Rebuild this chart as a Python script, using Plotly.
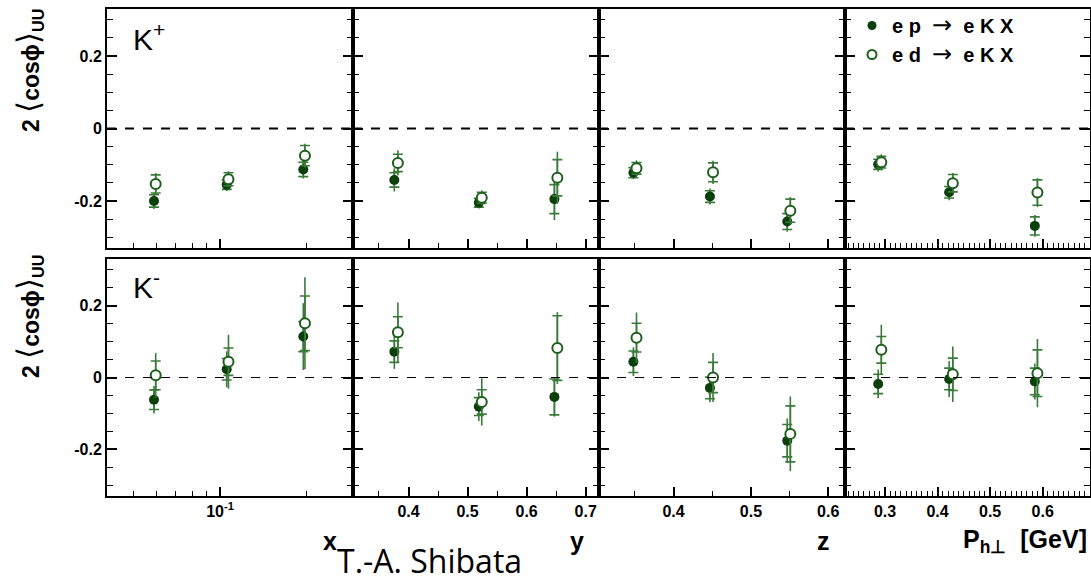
import plotly.graph_objects as go

# ---------------- data ----------------
panel_titles = ["x", "y", "z", "P<sub>h\u22a5</sub>  [GeV]"]
# bin centres (3 bins per panel: x, y, z, Ph_perp)
bins_ep = [0.059, 0.1055, 0.1946, 0.376, 0.519, 0.647, 0.348, 0.447, 0.547, 0.287, 0.422, 0.585]
bins_ed = [0.0598, 0.107, 0.1972, 0.382, 0.524, 0.652, 0.352, 0.451, 0.551, 0.293, 0.429, 0.590]

# K+ , proton target
kplus_ep_val = [-0.200, -0.155, -0.113, -0.142, -0.205, -0.195, -0.122, -0.188, -0.257, -0.099, -0.176, -0.269]
kplus_ep_stat = [0.022, 0.018, 0.025, 0.032, 0.016, 0.058, 0.018, 0.022, 0.028, 0.020, 0.022, 0.030]
kplus_ep_sys = [0.017, 0.013, 0.020, 0.020, 0.012, 0.040, 0.014, 0.016, 0.022, 0.014, 0.016, 0.025]
# K+ , deuteron target
kplus_ed_val = [-0.153, -0.140, -0.075, -0.095, -0.191, -0.136, -0.110, -0.121, -0.227, -0.093, -0.151, -0.177]
kplus_ed_stat = [0.030, 0.022, 0.033, 0.035, 0.020, 0.072, 0.022, 0.032, 0.038, 0.022, 0.028, 0.040]
kplus_ed_sys = [0.025, 0.018, 0.028, 0.024, 0.015, 0.050, 0.016, 0.026, 0.032, 0.016, 0.024, 0.035]
# K- , proton target
kminus_ep_val = [-0.062, 0.023, 0.114, 0.072, -0.081, -0.054, 0.044, -0.029, -0.176, -0.018, -0.004, -0.011]
kminus_ep_stat = [0.038, 0.050, 0.093, 0.048, 0.040, 0.055, 0.040, 0.040, 0.062, 0.040, 0.050, 0.050]
kminus_ep_sys = [0.027, 0.030, 0.042, 0.030, 0.025, 0.050, 0.030, 0.030, 0.045, 0.027, 0.030, 0.037]
# K- , deuteron target
kminus_ed_val = [0.006, 0.044, 0.151, 0.126, -0.068, 0.082, 0.111, 0.000, -0.157, 0.077, 0.009, 0.012]
kminus_ed_stat = [0.062, 0.075, 0.128, 0.083, 0.066, 0.100, 0.070, 0.068, 0.104, 0.070, 0.077, 0.095]
kminus_ed_sys = [0.040, 0.038, 0.076, 0.043, 0.034, 0.090, 0.040, 0.042, 0.078, 0.037, 0.045, 0.065]

x_tickvals = [[0.1], [0.4, 0.5, 0.6, 0.7], [0.4, 0.5, 0.6], [0.3, 0.4, 0.5, 0.6]]
x_ticktext = [["10<sup>-1</sup>"], ["0.4", "0.5", "0.6", "0.7"], ["0.4", "0.5", "0.6"], ["0.3", "0.4", "0.5", "0.6"]]
y_tickvals = [-0.2, 0.0, 0.2]
y_ticktext = ["-0.2", "0", "0.2"]

# ---------------- layout geometry ----------------
W, H = 1091, 584
xdom_px = [(107, 353), (353, 599), (599, 845), (845, 1090)]
ydom_px = [(9, 248), (259, 496)]
xranges = [[-1.3924, -0.5382], [0.306, 0.7225], [0.3035, 0.6217], [0.2239, 0.69]]
xtypes = ["log", "linear", "linear", "linear"]
x_minor = [
    dict(tickmode="array", tickvals=[0.05, 0.06, 0.07, 0.08, 0.09, 0.2]),
    dict(tickmode="linear", tick0=0, dtick=0.05),
    dict(tickmode="linear", tick0=0, dtick=0.05),
    dict(tickmode="linear", tick0=0, dtick=0.01),
]

FILL = "#0b3f0b"
EDGE = "#1e5e1e"
ERR = "#3b7a3b"
AXF = dict(family="Liberation Sans, Arial, sans-serif", size=16, color="black", weight="bold")

fig = go.Figure()

rows = [
    (kplus_ep_val, kplus_ep_stat, kplus_ep_sys, kplus_ed_val, kplus_ed_stat, kplus_ed_sys),
    (kminus_ep_val, kminus_ep_stat, kminus_ep_sys, kminus_ed_val, kminus_ed_stat, kminus_ed_sys),
]

layout_axes = {}
shapes = []
for r in range(2):
    ep_v, ep_st, ep_sy, ed_v, ed_st, ed_sy = rows[r]
    for c in range(4):
        n = r * 4 + c + 1
        xa = "x" if n == 1 else f"x{n}"
        ya = "y" if n == 1 else f"y{n}"
        s = slice(3 * c, 3 * c + 3)
        for xs, v, st, sy, is_ep in [(bins_ep, ep_v, ep_st, ep_sy, True), (bins_ed, ed_v, ed_st, ed_sy, False)]:
            # statistical error (line without caps)
            fig.add_trace(go.Scatter(
                x=xs[s], y=v[s], mode="markers", xaxis=xa, yaxis=ya,
                marker=dict(size=1, color="rgba(0,0,0,0)"),
                error_y=dict(type="data", array=st[s], color=ERR, thickness=1.6, width=0),
                showlegend=False, hoverinfo="skip"))
            # systematic error (caps) + marker
            if is_ep:
                mk = dict(size=10, color=FILL, line=dict(width=0))
            else:
                mk = dict(size=10, color="white", line=dict(width=2, color=EDGE))
            fig.add_trace(go.Scatter(
                x=xs[s], y=v[s], mode="markers", xaxis=xa, yaxis=ya,
                marker=mk,
                error_y=dict(type="data", array=sy[s], color=ERR, thickness=1.6, width=5),
                showlegend=False))
        x0, x1 = xdom_px[c]
        y0, y1 = ydom_px[r]
        xkey = "xaxis" if n == 1 else f"xaxis{n}"
        ykey = "yaxis" if n == 1 else f"yaxis{n}"
        layout_axes[xkey] = dict(
            domain=[x0 / W, x1 / W], anchor=ya, type=xtypes[c], range=xranges[c],
            showline=True, linecolor="black", linewidth=2, mirror=True,
            ticks="inside", ticklen=9, tickwidth=1.6, tickcolor="black",
            tickmode="array", tickvals=x_tickvals[c], ticktext=x_ticktext[c],
            showticklabels=(r == 1), tickfont=AXF, showgrid=False, zeroline=False,
            minor=dict(ticks="inside", ticklen=5, tickwidth=1.4, tickcolor="black", showgrid=False, **x_minor[c]),
        )
        layout_axes[ykey] = dict(
            domain=[1 - y1 / H, 1 - y0 / H], anchor=xa, range=[-0.33, 0.33],
            showline=True, linecolor="black", linewidth=2, mirror="allticks",
            ticks="inside", ticklen=10, tickwidth=1.8, tickcolor="black",
            tickmode="array", tickvals=y_tickvals, ticktext=y_ticktext,
            showticklabels=(c == 0), tickfont=AXF, showgrid=False, zeroline=False,
            minor=dict(ticks="inside", ticklen=6, tickwidth=1.4, tickcolor="black",
                       tickmode="linear", tick0=0, dtick=0.05, showgrid=False),
        )
        shapes.append(dict(type="line", xref=f"{xa} domain", yref=ya, x0=0, x1=1, y0=0, y1=0,
                           line=dict(color="black", width=2 if r == 0 else 1.2, dash="dash")))

# legend entries
ARROW = "<span style='font-family:DejaVu Sans;font-weight:normal;font-size:24px'>\u2192</span>"
fig.add_trace(go.Scatter(x=[None], y=[None], mode="markers", name=f"e p  {ARROW}  e K X",
                         marker=dict(size=9, color=FILL)))
fig.add_trace(go.Scatter(x=[None], y=[None], mode="markers", name=f"e d  {ARROW}  e K X",
                         marker=dict(size=9, color="white", line=dict(width=2, color=EDGE))))

annotations = []
def px(xp, yp):
    return xp / W, 1 - yp / H

# hadron labels
for lab, ypix in [("K<sup>+</sup>", 37), ("K<sup>-</sup>", 285)]:
    ax, ay = px(131, ypix)
    annotations.append(dict(text=lab, x=ax, y=ay, xref="paper", yref="paper", xanchor="left", yanchor="middle",
                            showarrow=False, font=dict(family="Liberation Sans, Arial", size=30, color="black")))
# y-axis titles
ytitle = ("2 <span style='font-size:31px;font-weight:normal'>\u27e8</span>cos\u03d5"
          "<span style='font-size:31px;font-weight:normal'>\u27e9</span><sub>UU</sub>")
for ymid in [71, 317]:
    ax, ay = px(29, ymid)
    annotations.append(dict(text=ytitle, x=ax, y=ay, xref="paper", yref="paper",
                            xanchor="center", yanchor="middle", textangle=-90, showarrow=False,
                            font=dict(family="Liberation Sans, Arial", size=23, color="black", weight="bold")))
# x-axis titles
for c, (xpix, anchor) in enumerate([(330, "center"), (577, "center"), (823, "center"), (1089, "right")]):
    ax, ay = px(xpix, 541)
    annotations.append(dict(text=panel_titles[c], x=ax, y=ay, xref="paper", yref="paper",
                            xanchor=anchor, yanchor="middle", showarrow=False,
                            font=dict(family="Liberation Sans, Arial", size=25, color="black", weight="bold")))
# author credit
annotations.append(dict(text="T.-A. Shibata", x=335 / W, y=0, xref="paper", yref="paper",
                        xanchor="left", yanchor="bottom", showarrow=False,
                        font=dict(family="Open Sans, sans-serif", size=32, color="black")))

lx, ly = px(852, 6)
fig.update_layout(
    width=W, height=H, margin=dict(l=0, r=0, t=0, b=0),
    paper_bgcolor="white", plot_bgcolor="white",
    shapes=shapes, annotations=annotations,
    showlegend=True,
    legend=dict(x=lx, y=ly, xanchor="left", yanchor="top", bgcolor="rgba(0,0,0,0)",
                font=dict(family="Liberation Sans, Arial", size=20, color="black", weight="bold"),
                itemwidth=30, tracegroupgap=0),
    **layout_axes,
)

fig.write_html("out.html")
